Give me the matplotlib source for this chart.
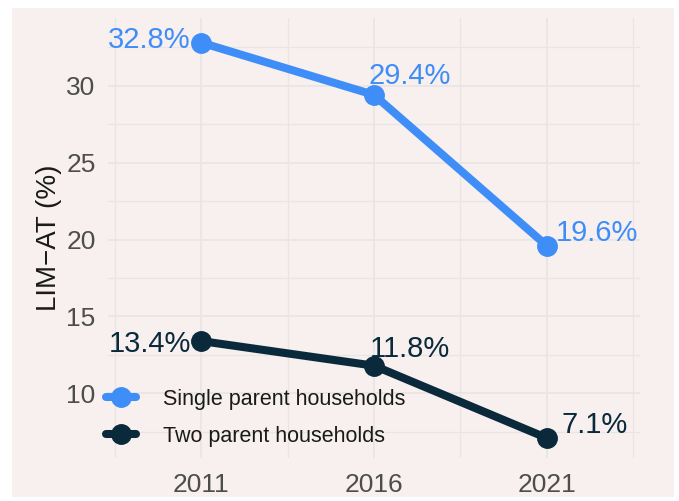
import matplotlib

matplotlib.use("Agg")
import matplotlib.pyplot as plt
from matplotlib.patches import Rectangle
from matplotlib.ticker import FixedLocator

plt.rcParams["font.family"] = ["Liberation Sans", "DejaVu Sans"]

years = [2011, 2016, 2021]
single_parent = [32.8, 29.4, 19.6]
two_parent = [13.4, 11.8, 7.1]
series_names = ["Single parent households", "Two parent households"]
y_ticks = [10, 15, 20, 25, 30]

BLUE = "#3f8ef7"
NAVY = "#0a2a3b"
BG = "#f7f0ee"
GRID = "#e9e5e4"

W, H = 679, 501
fig = plt.figure(figsize=(W / 100, H / 100), dpi=100, facecolor="white")

# pink plot background, with a thin white margin around it
fig.patches.append(
    Rectangle((12 / W, 1 - 497 / H), (674 - 12) / W, (497 - 8) / H,
              transform=fig.transFigure, facecolor=BG, edgecolor="none", zorder=-10)
)

ax = fig.add_axes([108 / W, 1 - 458 / H, (640 - 108) / W, (458 - 18) / H])
ax.set_zorder(1)
ax.patch.set_alpha(0)

for vals, color, name in [(single_parent, BLUE, series_names[0]),
                          (two_parent, NAVY, series_names[1])]:
    ax.plot(years, vals, color=color, lw=5.8, marker="o", ms=14,
            solid_capstyle="round", label=name, zorder=3)

# value labels: (ha, dx, dy) in pixels relative to the point
label_pos = {
    (0, 0): ("right", -11, -5),
    (0, 1): ("left", -5, 11),
    (0, 2): ("left", 9, 5),
    (1, 0): ("right", -10, -11),
    (1, 1): ("left", -4, 9),
    (1, 2): ("left", 15, 5),
}
for si, (vals, color) in enumerate([(single_parent, BLUE), (two_parent, NAVY)]):
    for pi, (x, v) in enumerate(zip(years, vals)):
        ha, dx, dy = label_pos[(si, pi)]
        ax.annotate(f"{v}%", (x, v), xytext=(dx, dy), textcoords="offset pixels",
                    ha=ha, va="baseline", fontsize=21, color=color, zorder=4)

ax.set_xlim(2008.3, 2023.7)
ax.set_ylim(5.8, 34.4)
ax.set_xticks(years)
ax.set_yticks(y_ticks)
ax.xaxis.set_minor_locator(FixedLocator([2008.5, 2013.5, 2018.5, 2023.5]))
ax.yaxis.set_minor_locator(FixedLocator([7.5, 12.5, 17.5, 22.5, 27.5, 32.5]))
ax.grid(which="major", color=GRID, lw=1.3, zorder=0)
ax.grid(which="minor", color=GRID, lw=0.9, zorder=0)
ax.set_axisbelow(True)
ax.tick_params(which="both", length=0)
ax.tick_params(axis="y", labelsize=19, labelcolor="#4d4d4d", pad=9)
ax.tick_params(axis="x", labelsize=19, labelcolor="#4d4d4d", pad=11)
for s in ax.spines.values():
    s.set_visible(False)

ax.set_ylabel("LIM\u2212AT (%)", fontsize=20, color="#1a1a1a", labelpad=3)

ax.legend(loc="center left", bbox_to_anchor=(106 / W, 1 - 418 / H),
          bbox_transform=fig.transFigure, frameon=False, fontsize=15.5,
          handlelength=1.4, handletextpad=1.25, labelspacing=0.74,
          borderpad=0, borderaxespad=0, labelcolor="#1a1a1a")

fig.savefig("out.png", dpi=100, facecolor="white")
